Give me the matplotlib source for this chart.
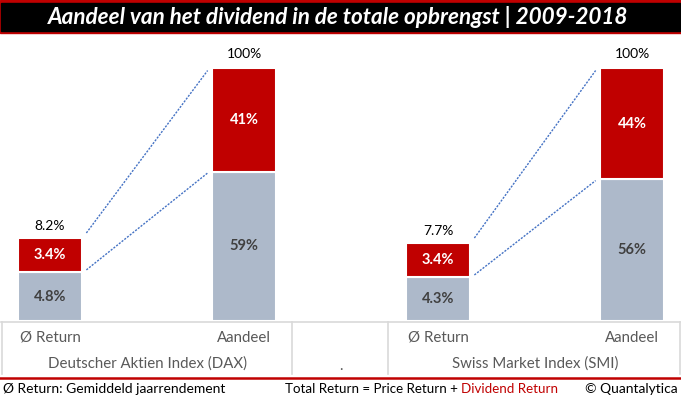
import matplotlib
matplotlib.use('Agg')
import matplotlib.pyplot as plt
from matplotlib.lines import Line2D
from matplotlib.patches import Rectangle
from matplotlib.transforms import blended_transform_factory

plt.rcParams['font.family'] = ['Lato', 'DejaVu Sans']

# data
indices = ['Deutscher Aktien Index (DAX)', 'Swiss Market Index (SMI)']
sub_labels = ['Ø Return', 'Aandeel']
price_return = [4.8, 4.3]       # gemiddeld jaarrendement, koers
dividend_return = [3.4, 3.4]    # gemiddeld jaarrendement, dividend
total_return = [8.2, 7.7]
price_share = [59, 56]          # aandeel in totale opbrengst
dividend_share = [41, 44]
SMALL_SCALE = 4                 # kleine staven worden 4x vergroot getekend

RED = '#C00000'
GREY = '#ADB9CA'
LINE = '#4472C4'
TXT = '#595959'

W, H = 681, 399
fig = plt.figure(figsize=(W / 100, H / 100), dpi=100)


def fx(x):
    return x / W


def fy(y):
    return 1 - y / H


# titelbalk
fig.add_artist(Rectangle((fx(0), fy(33)), 1, 33 / H, color=RED, transform=fig.transFigure))
fig.add_artist(Rectangle((fx(1), fy(30.5)), fx(679), 28 / H, color='black', transform=fig.transFigure))
fig.text(fx(338), fy(17), 'Aandeel van het dividend in de totale opbrengst | 2009-2018',
         color='white', fontsize=16.2, fontweight='bold', fontstyle='italic',
         ha='center', va='center')

ax = fig.add_axes([0, fy(321), 1, (321 - 40) / H])
ax.set_xlim(-50 / 194, (W - 50) / 194)
ax.set_ylim(0, 281 / 253 * 100)
ax.axis('off')

bw = 0.325
gap = 0.025
for i in range(len(indices)):
    xs = 2 * i          # Ø Return
    xb = 2 * i + 1      # Aandeel
    p_small = price_return[i] * SMALL_SCALE
    d_small = dividend_return[i] * SMALL_SCALE
    ax.bar(xs, p_small, bw, color=GREY, edgecolor='white', linewidth=1.5)
    ax.bar(xs, d_small, bw, bottom=p_small, color=RED, edgecolor='white', linewidth=1.5)
    ax.bar(xb, price_share[i], bw, color=GREY, edgecolor='white', linewidth=1.5)
    ax.bar(xb, dividend_share[i], bw, bottom=price_share[i], color=RED,
           edgecolor='white', linewidth=1.5)

    # verbindingslijnen
    x0, x1 = xs + bw / 2 + gap, xb - bw / 2 - gap
    ax.plot([x0, x1], [p_small + d_small + 2, 99], color=LINE, lw=1,
            linestyle=(0, (1.5, 1)))
    ax.plot([x0, x1], [p_small + 1, price_share[i] - 0.5], color=LINE, lw=1,
            linestyle=(0, (1.5, 1)))

    # labels
    lab = dict(ha='center', va='center', fontsize=10.5, fontweight='bold')
    ax.text(xs, p_small / 2, f'{price_return[i]:.1f}%', color='#404040', **lab)
    ax.text(xs, p_small + d_small / 2, f'{dividend_return[i]:.1f}%', color='white', **lab)
    ax.text(xb, price_share[i] / 2, f'{price_share[i]}%', color='#404040', **lab)
    ax.text(xb, price_share[i] + dividend_share[i] / 2, f'{dividend_share[i]}%',
            color='white', **lab)
    ax.annotate(f'{total_return[i]:.1f}%', (xs, p_small + d_small), xytext=(0, 12),
                textcoords='offset pixels', ha='center', va='center', fontsize=10)
    ax.annotate('100%', (xb, price_share[i] + dividend_share[i]), xytext=(0, 14),
                textcoords='offset pixels', ha='center', va='center', fontsize=10)

# tabel onder de grafiek
grid = '#D9D9D9'
fig.add_artist(Line2D([fx(1), fx(680)], [fy(321.5), fy(321.5)], color=grid, lw=1.2,
                      transform=fig.transFigure))
for xv in [2, 292, 388, 680]:
    fig.add_artist(Line2D([fx(xv), fx(xv)], [fy(321.5), fy(374)], color=grid, lw=1.2,
                          transform=fig.transFigure))
fig.add_artist(Line2D([0, 1], [fy(378), fy(378)], color=RED, lw=1.8,
                      transform=fig.transFigure))

tr = blended_transform_factory(ax.transData, fig.transFigure)
for i in range(len(indices)):
    for j, lab in enumerate(sub_labels):
        fig.text(2 * i + j, fy(338), lab, transform=tr, ha='center', va='center',
                 color=TXT, fontsize=10.8)
    fig.text(2 * i + 0.5, fy(364), indices[i], transform=tr, ha='center', va='center',
             color=TXT, fontsize=10.8)
fig.text(1.5, fy(366), '.', transform=tr, ha='center', va='center', color=TXT, fontsize=10.5)

# voettekst
fig.text(fx(3), fy(389), 'Ø Return: Gemiddeld jaarrendement', ha='left', va='center',
         fontsize=10)
t1 = fig.text(fx(285), fy(389), 'Total Return = Price Return + ', ha='left', va='center',
              fontsize=9.6)
ax.annotate('Dividend Return', xy=(1, 0), xycoords=t1, ha='left', va='bottom',
            color=RED, fontsize=9.6)
fig.text(fx(678), fy(389), '© Quantalytica', ha='right', va='center', fontsize=10)

fig.savefig('out.png', dpi=100)
